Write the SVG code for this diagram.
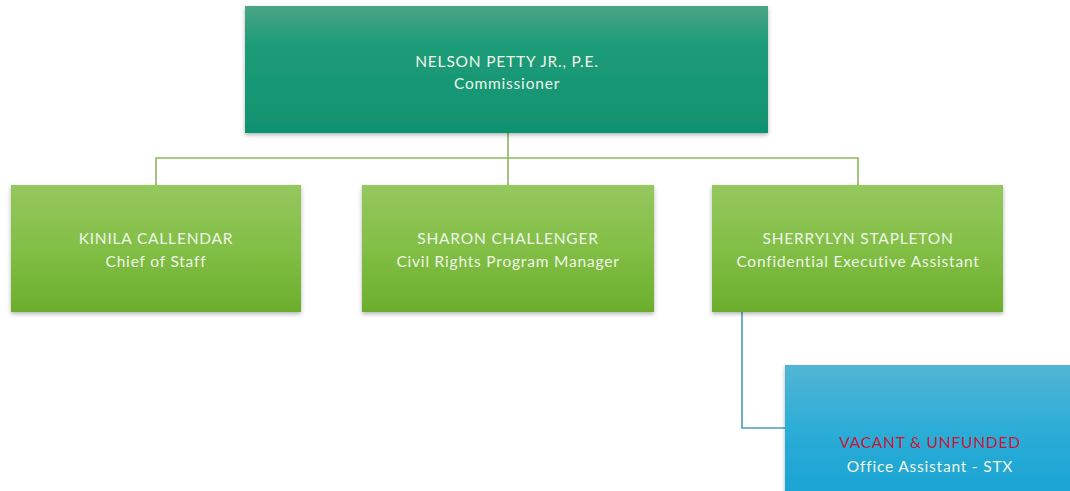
<svg xmlns="http://www.w3.org/2000/svg" width="1070" height="491" viewBox="0 0 1070 491">
<defs>
<linearGradient id="gTop" x1="0" y1="0" x2="0" y2="1"><stop offset="0" stop-color="#4aa585"/><stop offset="0.3" stop-color="#1e9c78"/><stop offset="1" stop-color="#109270"/></linearGradient>
<linearGradient id="gGreen" x1="0" y1="0" x2="0" y2="1"><stop offset="0" stop-color="#95c75e"/><stop offset="0.5" stop-color="#82bf46"/><stop offset="1" stop-color="#6bae2c"/></linearGradient>
<linearGradient id="gBlue" x1="0" y1="0" x2="0" y2="1"><stop offset="0" stop-color="#52b5d4"/><stop offset="0.5" stop-color="#2badd6"/><stop offset="1" stop-color="#1aa3d3"/></linearGradient>
<filter id="sh" x="-5%" y="-5%" width="110%" height="115%"><feDropShadow dx="0" dy="2" stdDeviation="2" flood-color="#000" flood-opacity="0.3"/></filter>
</defs>
<style>
text{font-family:"Lato","Open Sans","Liberation Sans",sans-serif;text-anchor:middle;fill:#eef5e8;font-size:15.5px;letter-spacing:0.8px}
.red{fill:#c8163a}
.conn{fill:none;stroke:#8ab85c;stroke-width:1.6}
.connb{fill:none;stroke:#4a9db8;stroke-width:1.6}
</style>
<g id="connectors">
<path class="conn" d="M508 133 V158 M156 185 V158 H858 V185 M508 158 V185"/>
<path class="connb" d="M742 312 V428 H785"/>
</g>
<g id="commissioner">
<rect x="245" y="6" width="523" height="127" fill="url(#gTop)" filter="url(#sh)"/>
<text x="507" y="67">NELSON PETTY JR., P.E.</text>
<text x="507" y="89">Commissioner</text>
</g>
<g id="chief-of-staff">
<rect x="11" y="185" width="290" height="127" fill="url(#gGreen)" filter="url(#sh)"/>
<text x="156" y="244">KINILA CALLENDAR</text>
<text x="156" y="267">Chief of Staff</text>
</g>
<g id="civil-rights">
<rect x="362" y="185" width="292" height="127" fill="url(#gGreen)" filter="url(#sh)"/>
<text x="508" y="244">SHARON CHALLENGER</text>
<text x="508" y="267">Civil Rights Program Manager</text>
</g>
<g id="exec-assistant">
<rect x="712" y="185" width="291" height="127" fill="url(#gGreen)" filter="url(#sh)"/>
<text x="858" y="244">SHERRYLYN STAPLETON</text>
<text x="858" y="267">Confidential Executive Assistant</text>
</g>
<g id="office-assistant">
<rect x="785" y="365" width="290" height="130" fill="url(#gBlue)" filter="url(#sh)"/>
<text class="red" x="930" y="448">VACANT &amp; UNFUNDED</text>
<text x="930" y="472">Office Assistant - STX</text>
</g>
</svg>
